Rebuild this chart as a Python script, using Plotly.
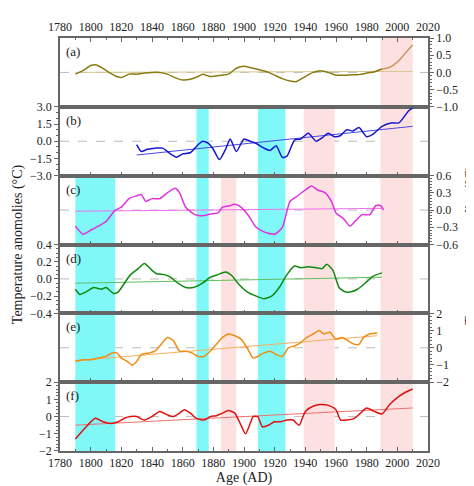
import plotly.graph_objects as go
from plotly.subplots import make_subplots

# ---- data ----
a_x = [1790,1795,1800,1803,1808,1812,1817,1820,1825,1830,1835,1840,1845,1850,1855,1860,1865,1870,1873,1878,1885,1890,1895,1900,1905,1910,1915,1920,1925,1930,1934,1940,1945,1950,1955,1960,1965,1970,1975,1980,1985,1990]
a_y = [-0.05,0.05,0.2,0.22,0.12,0,-0.12,-0.15,-0.05,-0.05,-0.02,0,0,-0.05,-0.15,-0.22,-0.2,-0.12,-0.05,-0.12,-0.08,-0.05,0.12,0.18,0.13,0.08,0.02,-0.08,-0.18,-0.25,-0.27,-0.12,0,0.05,0,-0.08,-0.08,-0.07,-0.06,-0.02,0.02,0.1]
a2_x = [1990,1995,2000,2005,2010]
a2_y = [0.1,0.15,0.3,0.55,0.8]

b_x = [1830,1833,1837,1842,1847,1852,1856,1860,1865,1870,1873,1877,1880,1884,1888,1891,1895,1900,1904,1908,1913,1917,1921,1925,1928,1933,1937,1942,1947,1951,1955,1959,1963,1967,1971,1975,1980,1984,1990,1996,2001,2007,2010]
b_y = [-0.3,-0.9,-0.7,-0.6,-0.6,-1.1,-1.4,-1.1,-1.0,-0.3,0.0,-0.2,-0.7,-1.6,-0.7,0.2,-0.9,0.2,0.0,-0.2,-0.6,-0.8,-0.4,-1.4,-1.3,0.1,0.2,0.7,0.0,0.3,0.7,0.4,0.5,1.0,0.9,1.2,0.4,0.6,1.3,1.6,1.6,2.6,2.9]

c_x = [1790,1795,1800,1805,1810,1816,1820,1825,1830,1833,1836,1840,1845,1850,1855,1858,1862,1868,1873,1878,1883,1886,1890,1894,1898,1903,1908,1913,1920,1925,1930,1935,1940,1944,1948,1953,1957,1960,1965,1969,1973,1977,1982,1986,1989,1991]
c_y = [-0.28,-0.42,-0.35,-0.28,-0.2,0.0,0.05,0.2,0.25,0.27,0.15,0.2,0.2,0.3,0.38,0.3,0.05,-0.08,-0.1,-0.07,-0.05,0.05,0.07,0.1,0.05,-0.1,-0.3,-0.38,-0.42,-0.3,0.15,0.25,0.35,0.42,0.35,0.3,0.15,-0.05,-0.15,-0.28,-0.18,-0.08,-0.08,0.08,0.08,0.0]

d_x = [1790,1793,1797,1802,1807,1810,1815,1818,1822,1826,1831,1835,1840,1843,1848,1852,1857,1862,1867,1873,1878,1883,1888,1892,1896,1902,1908,1913,1918,1923,1928,1933,1937,1942,1947,1951,1954,1958,1962,1966,1970,1974,1979,1984,1990]
d_y = [-0.12,-0.18,-0.15,-0.1,-0.12,-0.1,-0.17,-0.15,-0.05,0.05,0.12,0.18,0.1,0.06,0.05,0.02,-0.05,-0.1,-0.1,-0.05,0.02,0.05,0.08,0.04,-0.05,-0.15,-0.2,-0.23,-0.2,-0.1,0.05,0.15,0.13,0.14,0.13,0.12,0.17,0.1,-0.1,-0.15,-0.15,-0.12,-0.05,0.03,0.07]

e_x = [1790,1795,1800,1805,1810,1814,1817,1820,1824,1827,1830,1833,1838,1842,1846,1850,1854,1858,1862,1866,1870,1874,1878,1882,1886,1890,1894,1898,1902,1906,1909,1913,1917,1921,1925,1929,1933,1937,1941,1945,1949,1952,1956,1960,1964,1968,1972,1975,1978,1982,1987]
e_y = [-0.8,-0.7,-0.7,-0.6,-0.5,-0.3,-0.3,-0.6,-0.8,-1.0,-0.8,-0.4,-0.3,-0.2,0.2,0.6,0.4,-0.2,-0.2,-0.3,-0.5,-0.5,-0.2,0.2,0.6,0.8,0.7,0.5,0.0,-0.6,-0.5,-0.3,-0.2,-0.4,-0.5,0.0,0.1,0.3,0.6,0.8,1.0,0.8,0.9,0.5,0.6,0.4,0.2,0.2,0.6,0.8,0.85]

f_x = [1790,1794,1798,1803,1808,1813,1818,1822,1826,1830,1835,1840,1845,1850,1854,1858,1861,1865,1869,1874,1878,1882,1886,1890,1894,1897,1901,1904,1906,1909,1912,1916,1920,1924,1928,1932,1936,1940,1945,1950,1955,1960,1963,1967,1972,1976,1980,1985,1990,1995,2000,2005,2010]
f_y = [-1.3,-0.9,-0.5,-0.1,-0.3,-0.4,-0.3,-0.1,0.0,0.0,-0.2,0.0,0.3,0.1,0.0,0.2,0.4,0.2,-0.1,-0.2,0.0,0.05,0.2,0.35,0.2,-0.3,-1.0,-0.4,0.0,0.0,-0.6,-0.5,-0.3,-0.3,-0.2,-0.2,-0.5,0.3,0.6,0.7,0.65,0.4,-0.2,-0.2,-0.1,0.2,0.5,0.3,0.15,0.7,1.1,1.4,1.6]

trends = {  # (x0, y0, x1, y1)
    'a': (1790, 0.0, 2010, 0.03),
    'b': (1830, -1.2, 2010, 1.3),
    'c': (1790, -0.02, 1990, 0.03),
    'd': (1790, -0.05, 1990, 0.02),
    'e': (1790, -0.75, 1987, 0.7),
    'f': (1790, -0.5, 2010, 0.5),
}
cyan_bands = [(1790, 1816, 3), (1869, 1877, 2), (1909, 1927, 2)]
pink_bands = [(1885, 1895, 3), (1939, 1959, 2), (1989, 2010, 1)]

FONT = "Liberation Serif"
fig = make_subplots(rows=6, cols=1, shared_xaxes=True, vertical_spacing=0)

series = [
    (a_x, a_y, '#8a7a12', 'a'),
    (b_x, b_y, '#1515d0', 'b'),
    (c_x, c_y, '#e030e0', 'c'),
    (d_x, d_y, '#108a10', 'd'),
    (e_x, e_y, '#f08c10', 'e'),
    (f_x, f_y, '#e01010', 'f'),
]
light = {'a': '#d8c890', 'b': '#4a4ae0', 'c': '#f070f0', 'd': '#60c060', 'e': '#f8b060', 'f': '#f07070'}
for i, (x, y, col, k) in enumerate(series, start=1):
    t = trends[k]
    fig.add_trace(go.Scatter(x=[t[0], t[2]], y=[t[1], t[3]], mode='lines',
                             line=dict(color=light[k], width=1), showlegend=False), row=i, col=1)
    fig.add_trace(go.Scatter(x=x, y=y, mode='lines', line=dict(color=col, width=1.5, shape='spline', smoothing=0.6),
                             showlegend=False), row=i, col=1)
    if k == 'a':
        fig.add_trace(go.Scatter(x=a2_x, y=a2_y, mode='lines', line=dict(color='#c89a60', width=1.5, shape='spline'),
                                 showlegend=False), row=1, col=1)

# y axes
ycfg = {
    1: dict(range=[-1, 1], side='right', tickvals=[-1, -0.5, 0, 0.5, 1], ticktext=['−1.0', '−0.5', '0.0', '0.5', '1.0']),
    2: dict(range=[-3, 3], side='left', tickvals=[-3, -1.5, 0, 1.5, 3], ticktext=['−3.0', '−1.5', '0.0', '1.5', '3.0']),
    3: dict(range=[-0.6, 0.6], side='right', tickvals=[-0.6, -0.3, 0, 0.3, 0.6], ticktext=['−0.6', '−0.3', '0.0', '0.3', '0.6']),
    4: dict(range=[-0.4, 0.4], side='left', tickvals=[-0.4, -0.2, 0, 0.2, 0.4], ticktext=['−0.4', '−0.2', '0.0', '0.2', '0.4']),
    5: dict(range=[-2, 2], side='right', tickvals=[-2, -1, 0, 1, 2], ticktext=['−2', '−1', '0', '1', '2']),
    6: dict(range=[-2, 2], side='left', tickvals=[-2, -1, 0, 1, 2], ticktext=['−2', '−1', '0', '1', '2']),
}
for r, c in ycfg.items():
    fig.update_yaxes(row=r, col=1, showgrid=False, zeroline=False, showline=True, linecolor='#666', linewidth=1.5,
                     mirror=True, ticks='outside', ticklen=4, tickcolor='#666',
                     minor=dict(ticks='outside', ticklen=2, tickcolor='#666'),
                     tickfont=dict(family=FONT, size=12, color='#222'), **c)
    fig.add_hline(y=0, row=r, col=1, line=dict(color='#bbbbbb', width=1, dash='dash'), layer='below')

for r in range(1, 7):
    fig.update_xaxes(row=r, col=1, range=[1780, 2020], showgrid=False, zeroline=False, showline=True,
                     linecolor='#666', linewidth=1.5, mirror=True, ticks='inside', ticklen=4, tickcolor='#666',
                     dtick=20, minor=dict(ticks='inside', ticklen=2, dtick=10, tickcolor='#666'),
                     tickfont=dict(family=FONT, size=12, color='#222'))
fig.update_xaxes(row=1, col=1, showticklabels=True, side='top')
fig.update_xaxes(row=6, col=1, title=dict(text='Age (AD)', font=dict(family=FONT, size=14, color='#222'), standoff=2))

# bands: start at top of given panel row, extend to bottom
for x0, x1, row in cyan_bands + pink_bands:
    color = '#80f8f8' if (x0, x1, row) in cyan_bands else '#fde0e0'
    ytop = 1 - (row - 1) / 6
    fig.add_shape(type='rect', xref='x', yref='paper', x0=x0, x1=x1, y0=0, y1=ytop,
                  fillcolor=color, line_width=0, layer='below')

for i, lab in enumerate(['(a)', '(b)', '(c)', '(d)', '(e)', '(f)']):
    fig.add_annotation(xref='paper', yref='paper', x=0.01, y=1 - i / 6 - 0.01, text=lab, showarrow=False,
                       xanchor='left', yanchor='top', font=dict(family=FONT, size=13, color='#222'))

for xp in [-0.115, 1.115]:
    fig.add_annotation(xref='paper', yref='paper', x=xp, y=0.5, text='Temperature anomolies (°C)', textangle=-90,
                       xanchor='center', yanchor='middle',
                       showarrow=False, font=dict(family=FONT, size=14, color='#222'))

fig.update_layout(width=474, height=486, margin=dict(l=52, r=54, t=23, b=40),
                  paper_bgcolor='white', plot_bgcolor='white')
fig.write_html("out.html")
